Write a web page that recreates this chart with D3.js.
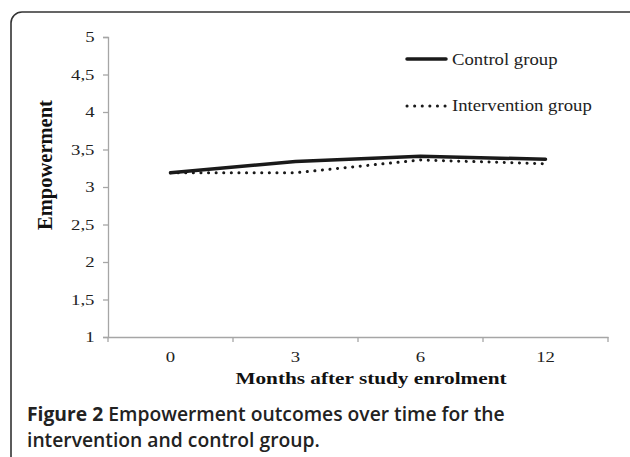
<!DOCTYPE html>
<html><head><meta charset="utf-8">
<script src="https://cdn.jsdelivr.net/npm/d3@7"></script>
<style>html,body{margin:0;padding:0;background:#fff;}svg{display:block;}</style>
</head><body>
<script>
const categories = ["0", "3", "6", "12"];
const controlValues = [3.19, 3.34, 3.41, 3.37];
const interventionValues = [3.19, 3.19, 3.36, 3.31];
const yTickValues = [1, 1.5, 2, 2.5, 3, 3.5, 4, 4.5, 5];
const seriesNames = ["Control group", "Intervention group"];

const W = 630, H = 457;
const svg = d3.select("body").append("svg").attr("width", W).attr("height", H);

// frame
svg.append("rect").attr("x", 11).attr("y", 12).attr("width", 640).attr("height", 480)
  .attr("rx", 11).attr("fill", "none").attr("stroke", "#333").attr("stroke-width", 1.6);

const mLeft = 108, mRight = 608, mTop = 37, mBottom = 337;
const x = d3.scaleBand().domain(categories).range([mLeft, mRight]);
const y = d3.scaleLinear().domain([1, 5]).range([mBottom, mTop]);

const serif = "'Liberation Serif','Times New Roman',serif";
const SX = 1.25; // horizontal stretch of the original chart text

// y axis
const yAxis = svg.append("g").attr("transform", `translate(${mLeft},0)`)
  .call(d3.axisLeft(y).tickValues(yTickValues).tickSize(5).tickPadding(6)
    .tickFormat(d => String(d).replace(".", ",")));
yAxis.select(".domain").attr("stroke", "#a6a6a6").attr("stroke-width", 1.3);
yAxis.selectAll(".tick line").attr("stroke", "#a6a6a6").attr("stroke-width", 1.3);
yAxis.selectAll(".tick text").attr("font-family", serif).attr("font-size", 15).attr("fill", "#222")
  .attr("x", 0).attr("transform", `translate(-13.5,0) scale(${SX},1)`);

// x axis
const xAxis = svg.append("g").attr("transform", `translate(0,${mBottom})`)
  .call(d3.axisBottom(x).tickSize(0).tickPadding(14));
xAxis.select(".domain").attr("stroke", "#a6a6a6").attr("stroke-width", 1.3);
xAxis.selectAll(".tick text").attr("font-family", serif).attr("font-size", 15).attr("fill", "#222")
  .attr("transform", `scale(${SX},1)`);
// boundary ticks between categories
const bounds = categories.map(c => x(c)).concat([x(categories[categories.length - 1]) + x.bandwidth()]);
xAxis.selectAll("line.bt").data(bounds).enter().append("line").attr("class", "bt")
  .attr("x1", d => d).attr("x2", d => d).attr("y1", 0).attr("y2", 5)
  .attr("stroke", "#a6a6a6").attr("stroke-width", 1.3);

// axis titles
svg.append("text").attr("transform", `translate(52,165) rotate(-90)`)
  .attr("text-anchor", "middle").attr("font-family", serif).attr("font-weight", "bold")
  .attr("font-size", 20.5).attr("fill", "#111").text("Empowerment");
svg.append("text").attr("transform", `translate(371,384) scale(${SX},1)`)
  .attr("text-anchor", "middle").attr("font-family", serif).attr("font-weight", "bold")
  .attr("font-size", 17).attr("fill", "#111").text("Months after study enrolment");

// lines
const line = d3.line().x((d, i) => x(categories[i]) + x.bandwidth() / 2).y(d => y(d));
svg.append("path").datum(interventionValues).attr("d", line).attr("fill", "none")
  .attr("stroke", "#1a1a1a").attr("stroke-width", 3).attr("stroke-linecap", "round")
  .attr("stroke-dasharray", "0.1,7.5");
svg.append("path").datum(controlValues).attr("d", line).attr("fill", "none")
  .attr("stroke", "#1a1a1a").attr("stroke-width", 3.5).attr("stroke-linecap", "round")
  .attr("stroke-linejoin", "round");

// legend
const lg = svg.append("g");
lg.append("line").attr("x1", 407).attr("x2", 446).attr("y1", 59).attr("y2", 59)
  .attr("stroke", "#1a1a1a").attr("stroke-width", 3.5).attr("stroke-linecap", "round");
lg.append("line").attr("x1", 407).attr("x2", 446).attr("y1", 106).attr("y2", 106)
  .attr("stroke", "#1a1a1a").attr("stroke-width", 3).attr("stroke-linecap", "round")
  .attr("stroke-dasharray", "0.1,7.5");
lg.append("text").attr("transform", "translate(452,65) scale(1.07,1)").attr("font-family", serif)
  .attr("font-size", 17.5).attr("fill", "#222").text(seriesNames[0]);
lg.append("text").attr("transform", "translate(452,111) scale(1.07,1)").attr("font-family", serif)
  .attr("font-size", 17.5).attr("fill", "#222").text(seriesNames[1]);

// caption
const cap = svg.append("text").attr("font-family", "'Open Sans','Noto Sans',sans-serif")
  .attr("font-size", 19.3).attr("fill", "#222");
const l1 = cap.append("tspan").attr("x", 27).attr("y", 421);
l1.append("tspan").attr("font-weight", "bold").text("Figure 2");
l1.append("tspan").attr("font-weight", 600).text(" Empowerment outcomes over time for the");
cap.append("tspan").attr("x", 27).attr("y", 447).attr("font-weight", 600)
  .text("intervention and control group.");
</script>
</body></html>
